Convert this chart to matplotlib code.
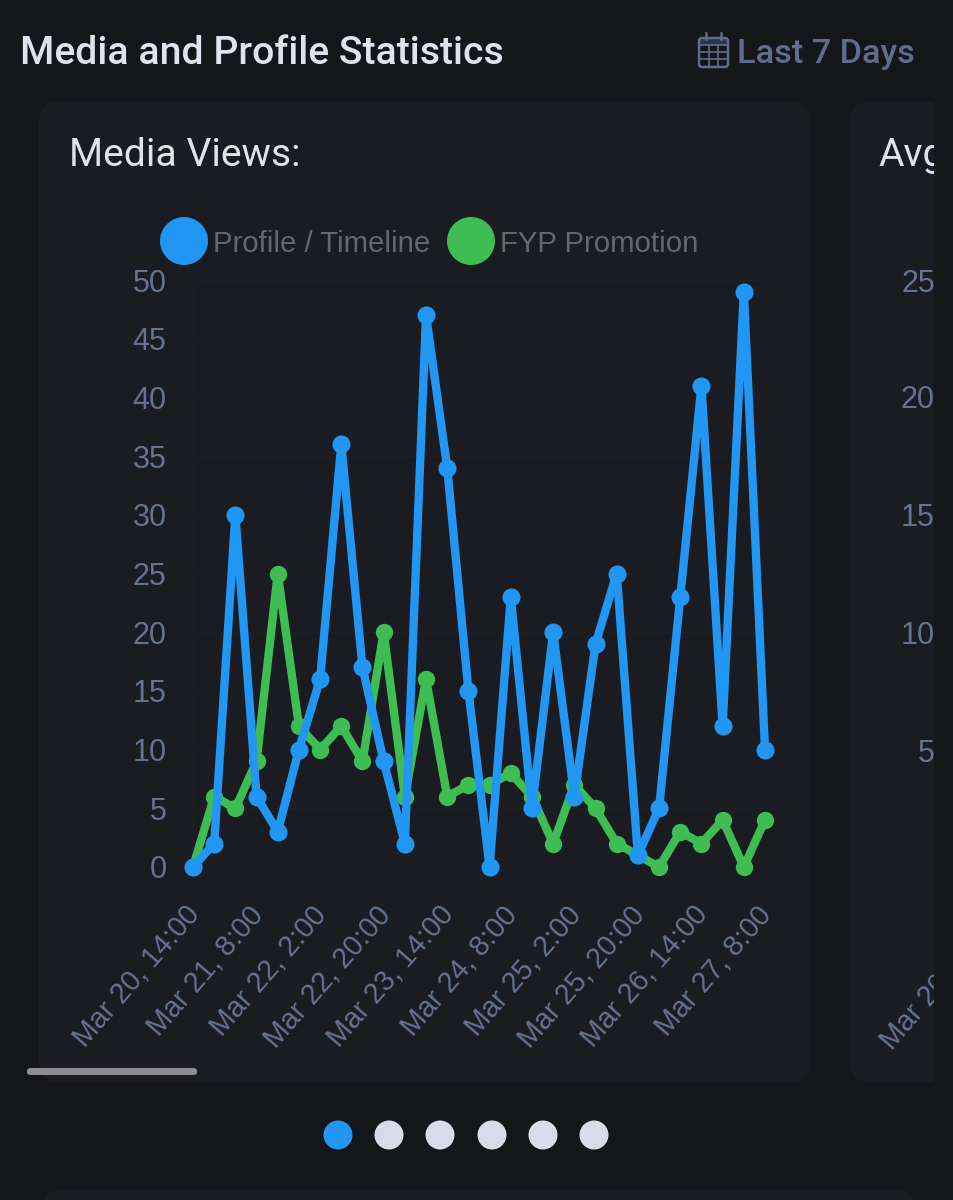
import matplotlib
matplotlib.use('Agg')
import matplotlib.pyplot as plt
from matplotlib.patches import FancyBboxPatch, Circle, Rectangle
from matplotlib.transforms import ScaledTranslation

# Data ------------------------------------------------------------------------
profile = [0, 2, 30, 6, 3, 10, 16, 36, 17, 9, 2, 47, 34, 15, 0, 23, 5, 20, 6, 19, 25, 1, 5, 23, 41, 12, 49, 10]
fyp = [0, 6, 5, 9, 25, 12, 10, 12, 9, 20, 6, 16, 6, 7, 7, 8, 6, 2, 7, 5, 2, 1, 0, 3, 2, 4, 0, 4]
x_ticks = [0, 3, 6, 9, 12, 15, 18, 21, 24, 27]
x_labels = ['Mar 20, 14:00', 'Mar 21, 8:00', 'Mar 22, 2:00', 'Mar 22, 20:00', 'Mar 23, 14:00',
            'Mar 24, 8:00', 'Mar 25, 2:00', 'Mar 25, 20:00', 'Mar 26, 14:00', 'Mar 27, 8:00']
y_ticks = [0, 5, 10, 15, 20, 25, 30, 35, 40, 45, 50]
next_ticks = ['25', '20', '15', '10', '5']
next_rows = [281, 397, 515, 632, 750]
series_names = ['Profile / Timeline', 'FYP Promotion']

# Colours ---------------------------------------------------------------------
BG = '#14161a'
CARD = '#1b1c21'
GRID = '#1f2025'
BLUE = '#2196f3'
GREEN = '#3dbd52'
TICK = '#66728f'
TITLE = '#dfe3ee'
RANGE = '#5f6c8b'
LEG = '#66676b'
DOT = '#d8dce8'

W, H = 954, 1200
fig = plt.figure(figsize=(W / 100, H / 100), dpi=100, facecolor=BG)

# Page layer in pixel coordinates ---------------------------------------------
bg = fig.add_axes([0, 0, 1, 1])
bg.set_xlim(0, W)
bg.set_ylim(H, 0)
bg.axis('off')

def card(x0, y0, x1, y1):
    p = FancyBboxPatch((x0 + 20, y0 + 20), x1 - x0 - 40, y1 - y0 - 40,
                       boxstyle='round,pad=20,rounding_size=20', fc=CARD, ec='none')
    bg.add_patch(p)
    return p

card(39, 102, 810, 1082)
clip = Rectangle((0, 0), 934, H, transform=bg.transData, fc='none', ec='none')
bg.add_patch(clip)
card(850, 102, 1100, 1082).set_clip_path(clip)
card(42, 1190, 915, 1400)

bg.text(20, 50, 'Media and Profile Statistics', family='Roboto', weight='medium',
        fontsize=28.2, color=TITLE, va='center_baseline')
bg.text(737, 51, 'Last 7 Days', family='Roboto', weight='medium',
        fontsize=24.7, color=RANGE, va='center_baseline')
bg.text(69, 152, 'Media Views:', family='Roboto', fontsize=28.2, color=TITLE, va='center_baseline')
t = bg.text(878, 152, 'Avg', family='Roboto', fontsize=28.2, color=TITLE, va='center_baseline', clip_on=True)
t.set_clip_path(clip)

# Calendar icon ---------------------------------------------------------------
bg.add_patch(FancyBboxPatch((699, 38), 29, 29, boxstyle='round,pad=0,rounding_size=3',
                            fc='none', ec=RANGE, lw=1.8))
bg.fill_between([699, 728], 38, 45, color=RANGE, lw=0, alpha=0.35)
for yy in [45, 52, 59]:
    bg.plot([699, 728], [yy, yy], color=RANGE, lw=1.2)
for xx in [709, 718]:
    bg.plot([xx, xx], [45, 67], color=RANGE, lw=1.2)
for xx in [706, 721]:
    bg.plot([xx, xx], [33, 39], color=RANGE, lw=1.8)

# Legend ----------------------------------------------------------------------
bg.add_patch(Circle((184, 241), 24, fc=BLUE, ec='none'))
bg.add_patch(Circle((471, 241), 24, fc=GREEN, ec='none'))
for (xx, name) in zip([213, 500], series_names):
    bg.text(xx, 241, name, family='Liberation Sans', fontsize=21.2, color=LEG, va='center_baseline')

# Clipped neighbour card ------------------------------------------------------
for (lab, yy) in zip(next_ticks, next_rows):
    t = bg.text(935, yy, lab, family='Liberation Sans', fontsize=22, color=TICK,
                ha='right', va='center_baseline', clip_on=True)
    t.set_clip_path(clip)
t = bg.text(886, 1046, 'Mar 20', family='Liberation Sans', fontsize=20.6, color=TICK,
            rotation=49, rotation_mode='anchor', ha='left', va='center', clip_on=True)
t.set_clip_path(clip)

# Scrollbar and pager ---------------------------------------------------------
bg.add_patch(FancyBboxPatch((27, 1068), 170, 7, boxstyle='round,pad=0,rounding_size=3',
                            fc='#8e8e92', ec='none'))
for (i, xx) in enumerate([338, 389, 440, 492, 543, 594]):
    bg.add_patch(Circle((xx, 1135), 14.5, fc=BLUE if i == 0 else DOT, ec='none'))

# Chart -----------------------------------------------------------------------
ax = fig.add_axes([193 / W, 1 - 867 / H, (765 - 193) / W, (867 - 280) / H])
ax.patch.set_alpha(0)
xs = list(range(len(profile)))
ax.plot(xs, fyp, color=GREEN, lw=6, marker='o', ms=12.5, mew=0, clip_on=False,
        solid_joinstyle='round', zorder=3)
ax.plot(xs, profile, color=BLUE, lw=6, marker='o', ms=13, mew=0, clip_on=False,
        solid_joinstyle='round', zorder=4)
ax.set_xlim(0, len(profile) - 1)
ax.set_ylim(0, 50)
ax.set_yticks(y_ticks)
ax.set_xticks(x_ticks)
ax.set_xticklabels(x_labels, family='Liberation Sans', fontsize=20.6, color=TICK,
                   rotation=49, rotation_mode='anchor', ha='right', va='center')
ax.set_yticklabels([str(v) for v in y_ticks], family='Liberation Sans', fontsize=22, color=TICK)
ax.tick_params(axis='x', length=0, pad=31)
ax.tick_params(axis='y', length=0, pad=19)
shift = ScaledTranslation(2 / 100, 0, fig.dpi_scale_trans)
for lbl in ax.get_xticklabels():
    lbl.set_transform(lbl.get_transform() + shift)
ax.grid(True, axis='y', color=GRID, lw=1)
ax.grid(True, axis='x', color=GRID, lw=1, alpha=0.35)
ax.set_axisbelow(True)
for s in ax.spines.values():
    s.set_visible(False)
ax.spines['left'].set_visible(True)
ax.spines['left'].set_color(GRID)

fig.savefig('out.png', dpi=100, facecolor=BG)
plt.close('all')
